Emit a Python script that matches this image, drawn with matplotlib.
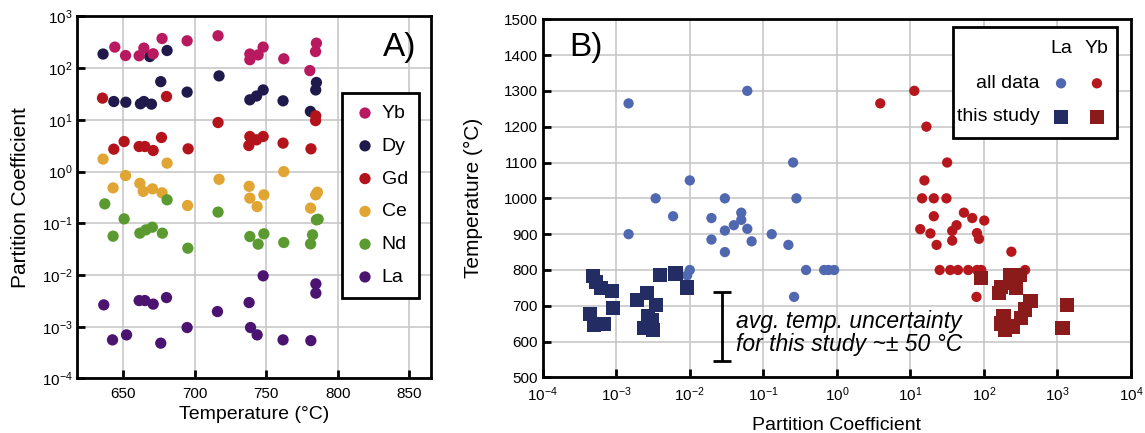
import numpy as np
import matplotlib
matplotlib.use('Agg')
import matplotlib.pyplot as plt
from matplotlib.ticker import FixedLocator, NullLocator, LogFormatterSciNotation
from matplotlib.patches import Rectangle

plt.rcParams['font.family'] = ['Liberation Sans', 'DejaVu Sans']
plt.rcParams['mathtext.default'] = 'regular'

# ---- panel A: partition coefficient vs temperature, per element ----
yb_T = [644.2, 651.7, 661.2, 664.5, 671.0, 677.2, 694.7, 716.3, 738.5, 738.5, 744.3, 747.8, 762.2, 785.0, 784.4, 780.4]
yb_D = [256, 176, 174, 245, 190, 375, 339, 424, 188, 146, 181, 256, 152, 305, 210, 90]

dy_T = [636.0, 668.6, 680.7, 676.3, 717.0, 738.5, 743.2, 747.8, 761.7, 785.0, 784.5, 780.8, 643.5, 651.9, 662.1, 664.5, 669.8, 694.7]
dy_D = [188, 168, 220, 55, 71, 24.5, 29, 38, 23.4, 53, 38, 14.6, 22.7, 22, 20.5, 22.7, 20.2, 34.5]

gd_T = [635.6, 680.3, 716.3, 784.5, 784.4, 643.5, 650.7, 661.2, 665.2, 671.0, 676.8, 695.4, 737.8, 738.5, 743.2, 747.8, 761.7, 781.2]
gd_D = [26.4, 28.4, 8.9, 12, 9.7, 2.72, 3.82, 3.06, 3.06, 2.56, 4.57, 2.76, 3.2, 4.78, 4.12, 4.78, 3.56, 2.76]

ce_T = [636.0, 643.0, 651.7, 661.7, 664.0, 670.5, 677.2, 680.7, 717.0, 738.0, 738.5, 743.6, 748.3, 762.2, 695.0, 780.9, 784.5, 785.7]
ce_D = [1.75, 0.485, 0.84, 0.594, 0.416, 0.464, 0.389, 1.46, 0.71, 0.52, 0.307, 0.211, 0.356, 1.0, 0.221, 0.197, 0.356, 0.40]

nd_T = [637.2, 650.7, 643.0, 661.7, 665.9, 670.4, 677.4, 680.7, 695.2, 716.3, 738.5, 744.3, 748.3, 762.2, 780.9, 782.3, 785.0, 786.2]
nd_D = [0.238, 0.122, 0.0565, 0.0646, 0.0748, 0.0843, 0.0646, 0.285, 0.0331, 0.165, 0.0556, 0.0396, 0.0627, 0.0426, 0.0401, 0.06, 0.117, 0.12]

la_T = [636.5, 642.6, 652.4, 661.2, 665.2, 671.0, 680.3, 676.3, 694.7, 715.9, 738.0, 739.0, 743.6, 747.8, 761.7, 781.1, 784.6, 784.6]
la_D = [0.00265, 0.000558, 0.000697, 0.00321, 0.00321, 0.00274, 0.00367, 0.000482, 0.000966, 0.00197,
        0.00294, 0.000966, 0.000697, 0.00966, 0.000558, 0.00054, 0.00676, 0.00447]

# ---- panel B: temperature vs partition coefficient ----
la_all_D = [1.47e-3, 0.0605, 0.254, 0.282, 0.01, 0.00343, 0.030, 0.00593, 0.0197, 0.0501, 0.0501, 0.0397, 0.030, 0.0605,
            0.13, 0.00147, 0.0197, 0.0693, 0.219, 0.030, 0.01, 0.0092, 0.381, 0.671, 0.77, 0.918, 0.262]
la_all_T = [1265, 1300, 1100, 1000, 1050, 1000, 1000, 950, 945, 960, 940, 925, 910, 915,
            900, 900, 885, 880, 870, 850, 800, 785, 800, 800, 800, 800, 725]

la_study_D = [4.81e-4, 5.33e-4, 6.18e-4, 8.73e-4, 9.01e-4, 4.42e-4, 5.01e-4, 6.75e-4, 1.93e-3,
              2.62e-3, 3.51e-3, 2.69e-3, 3.07e-3, 2.41e-3, 3.16e-3, 3.98e-3, 6.37e-3, 9.2e-3]
la_study_T = [783, 766, 749, 742, 695, 677, 647, 649, 716, 735, 702, 670, 659, 639, 633, 786, 790, 751]

yb_all_D = [3.89, 11.3, 16.5, 31.6, 15.5, 14.4, 20.8, 30.9, 20.8, 53.4, 69.3, 101, 13.6, 18.7, 42.4,
            37, 80.4, 85.6, 37, 22.7, 236, 25, 34.8, 44.3, 61.1, 80.6, 92, 363, 79.1]
yb_all_T = [1265, 1300, 1200, 1100, 1050, 1000, 1000, 1000, 950, 960, 945, 938, 914, 902, 925,
            909, 903, 887, 882, 870, 851, 800, 800, 800, 800, 800, 800, 800, 725]

yb_study_D = [92, 172, 162, 224, 306, 251, 276, 428, 358, 1356, 1170, 184, 172, 249, 195, 322]
yb_study_T = [778, 753, 736, 787, 786, 764, 750, 714, 690, 702, 639, 672, 651, 642, 632, 666]

# uncertainty bar
unc_D = 0.027
unc_T = 642
unc_err = 96

c_yb, c_dy, c_gd = '#b8195f', '#1f1a4b', '#b3141c'
c_ce, c_nd, c_la = '#e0a532', '#5a9a30', '#4a1470'
c_blue, c_red = '#5068b0', '#b5171c'
c_navy, c_dred = '#232c63', '#8b1a1a'
grid_c = '#c8c8c8'

fig = plt.figure(figsize=(11.45, 4.33), dpi=100)
axA = fig.add_axes([0.0675, 0.1259, 0.3089, 0.836])
axB = fig.add_axes([0.474, 0.1282, 0.5138, 0.8275])

for ax in (axA, axB):
    ax.set_axisbelow(True)
    for s in ax.spines.values():
        s.set_linewidth(2)
    ax.tick_params(direction='in', length=6, width=2, labelsize=11, top=False, right=False)
    ax.grid(True, color=grid_c, linewidth=1.2)

# ---- panel A ----
ms = 66
series = [('Dy', dy_T, dy_D, c_dy), ('Yb', yb_T, yb_D, c_yb), ('Gd', gd_T, gd_D, c_gd),
          ('Ce', ce_T, ce_D, c_ce), ('Nd', nd_T, nd_D, c_nd), ('La', la_T, la_D, c_la)]
handles = {}
for name, T, D, col in series:
    handles[name] = axA.scatter(T, D, s=ms, color=col, edgecolors='none', label=name)

axA.set_yscale('log')
axA.set_xlim(618, 865)
axA.set_ylim(1e-4, 1e3)
axA.xaxis.set_major_locator(FixedLocator([650, 700, 750, 800, 850]))
axA.yaxis.set_major_locator(FixedLocator([10.0 ** k for k in range(-4, 4)]))
axA.yaxis.set_minor_locator(NullLocator())
axA.yaxis.set_major_formatter(LogFormatterSciNotation())
axA.tick_params(axis='x', pad=6)
axA.set_xlabel('Temperature (°C)', fontsize=14, labelpad=4)
axA.set_ylabel('Partition Coefficient', fontsize=15, labelpad=8)
axA.text(0.912, 0.913, 'A)', transform=axA.transAxes, fontsize=24, ha='center', va='center')
order = ['Yb', 'Dy', 'Gd', 'Ce', 'Nd', 'La']
leg = axA.legend([handles[k] for k in order], order, loc='upper left', bbox_to_anchor=(0.7475, 0.789),
                 frameon=True, fancybox=False, edgecolor='black', framealpha=1,
                 prop={'size': 14}, handletextpad=0.25, labelspacing=0.78, borderpad=0.6,
                 handlelength=1.2, borderaxespad=0)
leg.get_frame().set_linewidth(2)

# ---- panel B ----
axB.scatter(la_all_D, la_all_T, s=55, color=c_blue, edgecolors='none', zorder=3)
axB.scatter(yb_all_D, yb_all_T, s=55, color=c_red, edgecolors='none', zorder=3)
axB.scatter(la_study_D, la_study_T, s=105, marker='s', color=c_navy, edgecolors='none', zorder=4)
axB.scatter(yb_study_D, yb_study_T, s=105, marker='s', color=c_dred, edgecolors='none', zorder=4)

axB.errorbar([unc_D], [unc_T], yerr=[unc_err], color='black', elinewidth=2, capsize=6.5, capthick=2,
             fmt='none', zorder=5)
axB.text(0.042, 624, 'avg. temp. uncertainty\nfor this study ~\u00b1 50 \u00b0C', fontsize=16.5, style='italic',
         ha='left', va='center', linespacing=1.0)

axB.set_xscale('log')
axB.set_xlim(1e-4, 1e4)
axB.set_ylim(500, 1500)
axB.xaxis.set_major_locator(FixedLocator([10.0 ** k for k in range(-4, 5)]))
axB.xaxis.set_minor_locator(NullLocator())
axB.xaxis.set_major_formatter(LogFormatterSciNotation())
axB.yaxis.set_major_locator(FixedLocator(np.arange(500, 1501, 100)))
axB.tick_params(axis='x', pad=6)
axB.set_xlabel('Partition Coefficient', fontsize=14, labelpad=9)
axB.set_ylabel('Temperature (°C)', fontsize=15, labelpad=15)
axB.text(0.074, 0.92, 'B)', transform=axB.transAxes, fontsize=24, ha='center', va='center')

# table-style legend for panel B
tr = axB.transAxes
axB.add_patch(Rectangle((0.697, 0.668), 0.279, 0.31, transform=tr, facecolor='white',
                        edgecolor='black', linewidth=2, zorder=6))
axB.text(0.881, 0.917, 'La', transform=tr, fontsize=14, ha='center', va='center', zorder=7)
axB.text(0.942, 0.917, 'Yb', transform=tr, fontsize=14, ha='center', va='center', zorder=7)
axB.text(0.845, 0.821, 'all data', transform=tr, fontsize=14, ha='right', va='center', zorder=7)
axB.text(0.845, 0.728, 'this study', transform=tr, fontsize=14, ha='right', va='center', zorder=7)
axB.scatter([0.881], [0.821], s=55, color=c_blue, transform=tr, edgecolors='none', zorder=7, clip_on=False)
axB.scatter([0.942], [0.821], s=55, color=c_red, transform=tr, edgecolors='none', zorder=7, clip_on=False)
axB.scatter([0.881], [0.728], s=105, marker='s', color=c_navy, transform=tr, edgecolors='none', zorder=7, clip_on=False)
axB.scatter([0.942], [0.728], s=105, marker='s', color=c_dred, transform=tr, edgecolors='none', zorder=7, clip_on=False)

fig.savefig('out.png', dpi=100)
